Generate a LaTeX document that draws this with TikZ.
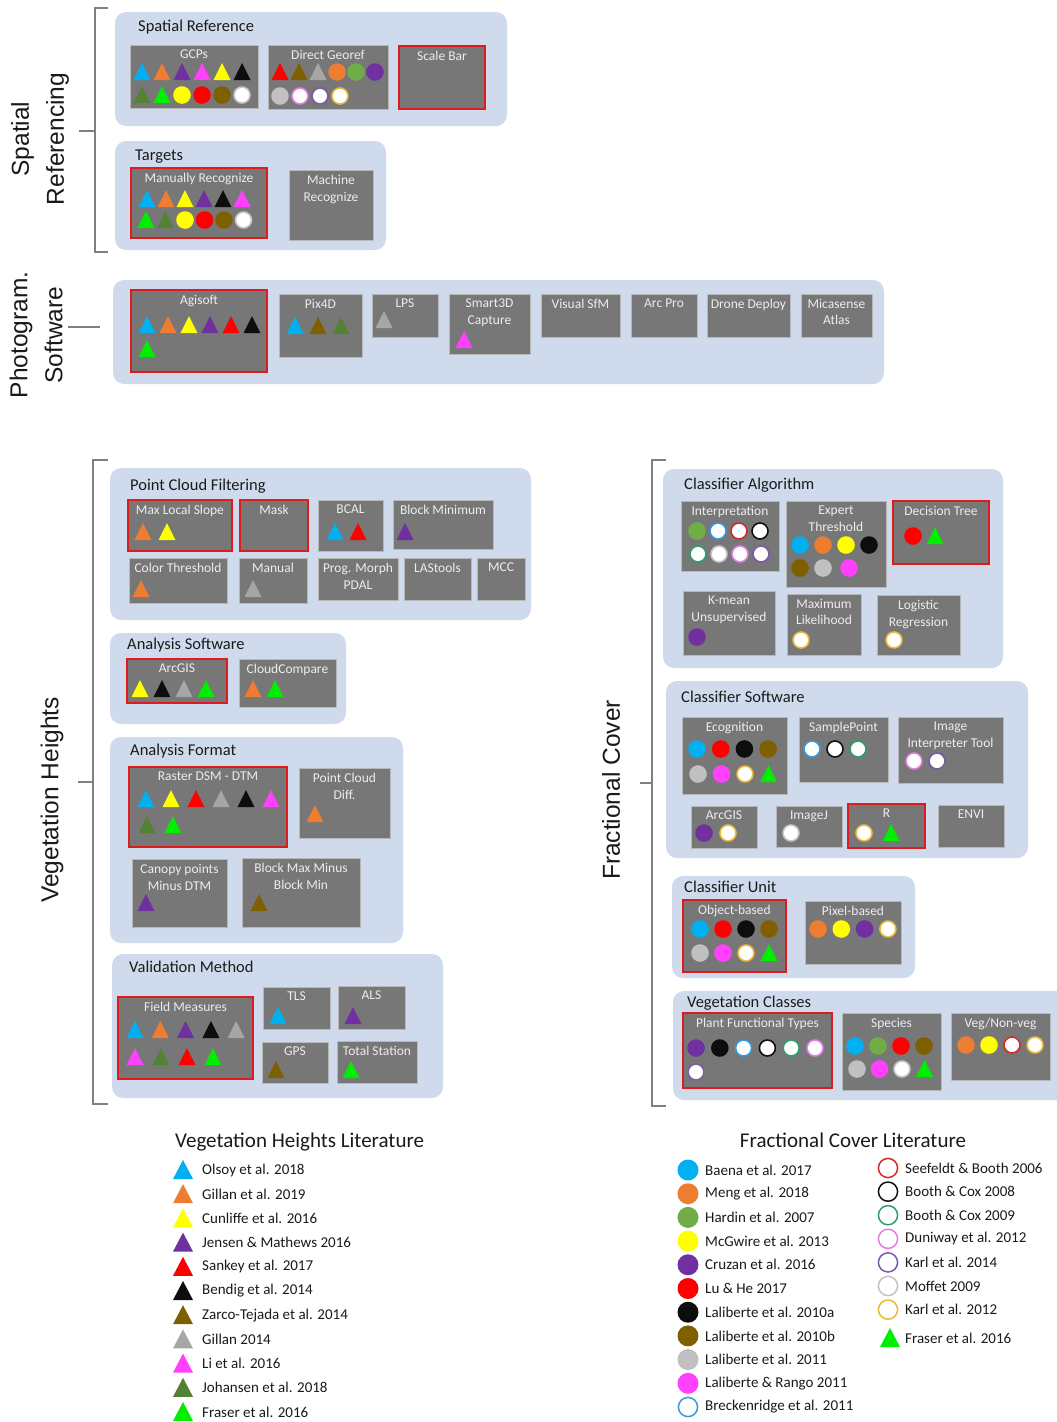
\documentclass[tikz,border=0pt]{standalone}
\usepackage{fontspec}
\setmainfont{Carlito}
\newfontfamily\arialf{Liberation Sans}
\definecolor{cBlu}{HTML}{00B0F0}
\definecolor{cOra}{HTML}{ED7D31}
\definecolor{cYel}{HTML}{FFFF00}
\definecolor{cPur}{HTML}{7030A0}
\definecolor{cRed}{HTML}{FF0000}
\definecolor{cBlk}{HTML}{0D0D0D}
\definecolor{cBrn}{HTML}{7F6000}
\definecolor{cGryT}{HTML}{A6A6A6}
\definecolor{cMag}{HTML}{FF40FF}
\definecolor{cDgr}{HTML}{548235}
\definecolor{cGrn}{HTML}{00EE00}
\definecolor{cHar}{HTML}{70AD47}
\definecolor{cGryC}{HTML}{C0C0C0}
\definecolor{rBlu}{HTML}{3A9AD8}
\definecolor{rRed}{HTML}{D42A2A}
\definecolor{rBlk}{HTML}{111111}
\definecolor{rGrn}{HTML}{2E9E6A}
\definecolor{rMag}{HTML}{E37DE3}
\definecolor{rPur}{HTML}{7B5AA6}
\definecolor{rGry}{HTML}{C4C4C4}
\definecolor{rGld}{HTML}{E8B93A}
\definecolor{grpblue}{HTML}{CFDBEC}
\definecolor{boxgray}{HTML}{777777}
\definecolor{boxedge}{HTML}{B8B8B8}
\definecolor{redb}{HTML}{E01B1B}
\definecolor{lbltext}{HTML}{EDEDED}
\definecolor{titletext}{HTML}{1A1A1A}
\definecolor{brkgray}{HTML}{808080}
\tikzset{
 grp/.style={fill=grpblue, rounded corners=11pt, inner sep=0, outer sep=0},
 box/.style={fill=boxgray, draw=boxedge, line width=0.8pt, inner sep=0, outer sep=0},
 redbox/.style={box, draw=redb, line width=2pt},
 boxlbl/.style={text=lbltext, font=\fontsize{13.5}{16.5}\selectfont, align=center, inner sep=2pt, yshift=-3pt},
 grptitle/.style={text=titletext, font=\fontsize{16.5}{19}\selectfont, anchor=west, inner sep=0},
 sidelbl/.style={text=titletext, font=\arialf\fontsize{24.5}{35}\selectfont, align=center, rotate=90, inner sep=0},
 brk/.style={draw=brkgray, line width=1.2pt},
 legtxt/.style={text=titletext, font=\fontsize{15}{17}\selectfont, anchor=west, inner sep=0},
 legtitle/.style={text=titletext, font=\fontsize{21}{23}\selectfont, inner sep=0},
}
% small symbols
\newcommand\symt[3]{\fill[fill=#3] (#1-8.5,#2+8) -- (#1+8.5,#2+8) -- (#1,#2-9) -- cycle;}
\newcommand\symc[3]{\fill[fill=#3] (#1,#2) circle (8.8pt);}
\newcommand\symr[3]{\filldraw[fill=white,draw=#3,line width=1.6pt] (#1,#2) circle (8pt);}
% legend symbols
\newcommand\symLT[3]{\fill[fill=#3] (#1-10,#2+9) -- (#1+10,#2+9) -- (#1,#2-10) -- cycle;}
\newcommand\symLc[3]{\fill[fill=#3] (#1,#2) circle (10.5pt);}
\newcommand\symLr[3]{\draw[draw=#3,line width=1.5pt] (#1,#2) circle (9.6pt);}
\newcommand\symrow[4]{\foreach \k/\cc [count=\i from 0] in {#4} {\pgfmathsetmacro\xx{#1+\i*#3}\csname sym\k\endcsname{\xx}{#2}{\cc}}}
\newcommand\mkbox[7][box]{%
 \pgfmathsetmacro\bw{#5-#3}\pgfmathsetmacro\bh{#6-#4}%
 \node[#1, minimum width=\bw pt, minimum height=\bh pt, anchor=north west] (#2) at (#3,#4) {};%
 \node[boxlbl, anchor=north] (#2-lbl) at (#2.north) {#7};}
\newcommand\mkgrp[5]{%
 \pgfmathsetmacro\bw{#4-#2}\pgfmathsetmacro\bh{#5-#3}%
 \node[grp, minimum width=\bw pt, minimum height=\bh pt, anchor=north west] (#1) at (#2,#3) {};}
\begin{document}
\begin{tikzpicture}[x=1pt,y=-1pt]
\useasboundingbox[fill=white] (0,0) rectangle (1057,1422);

% ---------- brackets and side labels
\draw[brk] (108,8) -- (95,8) -- (95,252) -- (108,252);
\draw[brk] (95,131) -- (79,131);
\draw[brk] (68,327) -- (100,327);
\draw[brk] (108,460) -- (93,460) -- (93,1104) -- (108,1104);
\draw[brk] (93,782) -- (78,782);
\draw[brk] (666,460) -- (652,460) -- (652,1106) -- (666,1106);
\draw[brk] (652,783) -- (640,783);
\node[sidelbl] (lblSR) at (40,139) {Spatial\\Referencing};
\node[sidelbl] (lblPS) at (36,335) {Photogram.\\Software};
\node[sidelbl] (lblVH) at (52,800) {Vegetation Heights};
\node[sidelbl] (lblFC) at (611,790) {Fractional Cover};

% ---------- groups
\mkgrp{gSR}{115}{12}{507}{126}
\mkgrp{gTG}{115}{141}{386}{250}
\mkgrp{gPS}{113}{280}{884}{384}
\mkgrp{gPCF}{110}{468}{531}{620}
\mkgrp{gAS}{110}{633}{346}{724}
\mkgrp{gAF}{110}{737}{403}{943}
\mkgrp{gVM}{112}{954}{443}{1098}
\mkgrp{gCA}{663}{469}{1003}{668}
\mkgrp{gCS}{666}{681}{1028}{858}
\mkgrp{gCU}{672}{876}{915}{978}
\mkgrp{gVC}{673}{991}{1080}{1100}
\node[grptitle] (tSR) at (138,27) {Spatial Reference};
\node[grptitle] (tTG) at (135,157) {Targets};
\node[grptitle] (tPCF) at (130,486) {Point Cloud Filtering};
\node[grptitle] (tAS) at (127,645) {Analysis Software};
\node[grptitle] (tAF) at (130,751) {Analysis Format};
\node[grptitle] (tVM) at (129,967) {Validation Method};
\node[grptitle] (tCA) at (684,485) {Classifier Algorithm};
\node[grptitle] (tCS) at (681,697) {Classifier Software};
\node[grptitle] (tCU) at (684,887) {Classifier Unit};
\node[grptitle] (tVC) at (687,1003) {Vegetation Classes};

% ---------- boxes: spatial referencing
\mkbox{bGCP}{130}{45}{258}{108}{GCPs}
\mkbox{bDG}{268}{45}{388}{109}{Direct Georef}
\mkbox[redbox]{bSB}{399}{46}{485}{109}{Scale Bar}
\mkbox[redbox]{bMR}{131}{168}{267}{238}{Manually Recognize}
\mkbox{bMaR}{289}{170}{373}{240}{Machine\\Recognize}
\symrow{142}{72}{20}{t/cBlu,t/cOra,t/cPur,t/cMag,t/cYel,t/cBlk}
\symrow{142}{95}{20}{t/cDgr,t/cGrn,c/cYel,c/cRed,c/cBrn,r/rGry}
\symrow{280}{72}{19}{t/cRed,t/cBrn,t/cGryT,c/cOra,c/cHar,c/cPur}
\symrow{280}{96}{20}{c/cGryC,r/rMag,r/rPur,r/rGld}
\symrow{147}{199}{19}{t/cBlu,t/cOra,t/cYel,t/cPur,t/cBlk,t/cMag}
\symrow{146}{220}{19.5}{t/cGrn,t/cDgr,c/cYel,c/cRed,c/cBrn,r/rGry}

% ---------- photogrammetry software
\mkbox[redbox]{bAg}{131}{290}{267}{372}{Agisoft}
\mkbox{bP4}{279}{294}{362}{357}{Pix4D}
\mkbox{bLPS}{372}{294}{438}{337}{LPS}
\mkbox{bS3}{449}{294}{530}{354}{Smart3D\\Capture}
\mkbox{bVS}{541}{294}{620}{337}{Visual SfM}
\mkbox{bAP}{631}{294}{697}{337}{Arc Pro}
\mkbox{bDD}{707}{294}{790}{337}{Drone Deploy}
\mkbox{bMA}{801}{294}{872}{337}{Micasense\\Atlas}
\symrow{147}{325}{21}{t/cBlu,t/cOra,t/cYel,t/cPur,t/cRed,t/cBlk}
\symrow{147}{349}{21}{t/cGrn}
\symrow{295}{326}{23}{t/cBlu,t/cBrn,t/cDgr}
\symrow{384}{320}{20}{t/cGryT}
\symrow{464}{340}{20}{t/cMag}

% ---------- point cloud filtering
\mkbox[redbox]{bMLS}{128}{500}{232}{551}{Max Local Slope}
\mkbox[redbox]{bMask}{240}{500}{308}{551}{Mask}
\mkbox{bBCAL}{318}{500}{383}{551}{BCAL}
\mkbox{bBM}{393}{500}{493}{549}{Block Minimum}
\mkbox{bCT}{129}{558}{227}{603}{Color Threshold}
\mkbox{bMan}{239}{558}{307}{603}{Manual}
\mkbox{bPM}{318}{558}{398}{600}{Prog. Morph\\PDAL}
\mkbox{bLAS}{404}{558}{471}{600}{LAStools}
\mkbox{bMCC}{477}{558}{525}{600}{MCC}
\symrow{143}{532}{24}{t/cOra,t/cYel}
\symrow{335}{532}{23}{t/cBlu,t/cRed}
\symrow{405}{532}{20}{t/cPur}
\symrow{141}{589}{20}{t/cOra}
\symrow{253}{589}{20}{t/cGryT}

% ---------- analysis software
\mkbox[redbox]{bAG1}{127}{659}{227}{703}{ArcGIS}
\mkbox{bCC}{239}{659}{336}{707}{CloudCompare}
\symrow{140}{689}{22}{t/cYel,t/cBlk,t/cGryT,t/cGrn}
\symrow{253}{689}{22}{t/cOra,t/cGrn}

% ---------- analysis format
\mkbox[redbox]{bRas}{129}{767}{287}{847}{Raster DSM - DTM}
\mkbox{bPCD}{299}{768}{390}{838}{Point Cloud\\Diff.}
\mkbox{bCan}{132}{859}{227}{927}{Canopy points\\Minus DTM}
\mkbox{bBMx}{242}{858}{360}{927}{Block Max Minus\\Block Min}
\symrow{146}{799}{25}{t/cBlu,t/cYel,t/cRed,t/cGryT,t/cBlk,t/cMag}
\symrow{147}{825}{26}{t/cDgr,t/cGrn}
\symrow{315}{814}{20}{t/cOra}
\symrow{146}{903}{20}{t/cPur}
\symrow{259}{903}{20}{t/cBrn}

% ---------- validation method
\mkbox[redbox]{bFM}{118}{997}{253}{1079}{Field Measures}
\mkbox{bTLS}{263}{987}{330}{1029}{TLS}
\mkbox{bALS}{338}{986}{405}{1029}{ALS}
\mkbox{bGPS}{262}{1042}{328}{1083}{GPS}
\mkbox{bTS}{337}{1041}{417}{1083}{Total Station}
\symrow{135}{1030}{25.3}{t/cBlu,t/cOra,t/cPur,t/cBlk,t/cGryT}
\symrow{135}{1057}{26}{t/cMag,t/cDgr,t/cRed,t/cGrn}
\symrow{278}{1016}{20}{t/cBlu}
\symrow{353}{1016}{20}{t/cPur}
\symrow{276}{1070}{20}{t/cBrn}
\symrow{351}{1070}{20}{t/cGrn}

% ---------- classifier algorithm
\mkbox{bInt}{681}{501}{779}{571}{Interpretation}
\mkbox{bET}{786}{501}{886}{587}{Expert\\Threshold}
\mkbox[redbox]{bDT}{893}{501}{989}{564}{Decision Tree}
\mkbox{bKM}{683}{591}{775}{655}{K-mean\\Unsupervised}
\mkbox{bML}{787}{594}{861}{655}{Maximum\\Likelihood}
\mkbox{bLR}{877}{595}{960}{655}{Logistic\\Regression}
\symrow{697}{531}{21}{c/cHar,r/rBlu,r/rRed,r/rBlk}
\symrow{698}{554}{21}{r/rGrn,r/rGry,r/rMag,r/rPur}
\symrow{800}{545}{23}{c/cBlu,c/cOra,c/cYel,c/cBlk}
\symrow{800}{568}{23}{c/cBrn,c/cGryC}
\symrow{849}{568}{20}{c/cMag}
\symrow{913}{536}{22}{c/cRed,t/cGrn}
\symrow{697}{637}{20}{c/cPur}
\symrow{801}{640}{20}{r/rGld}
\symrow{894}{640}{20}{r/rGld}

% ---------- classifier software
\mkbox{bEco}{682}{717}{787}{794}{Ecognition}
\mkbox{bSP}{799}{717}{888}{782}{SamplePoint}
\mkbox{bIIT}{898}{717}{1003}{783}{Image\\Interpreter Tool}
\mkbox{bAG2}{691}{806}{757}{848}{ArcGIS}
\mkbox{bIJ}{776}{806}{842}{847}{ImageJ}
\mkbox[redbox]{bR}{848}{804}{925}{848}{R}
\mkbox{bENVI}{938}{805}{1004}{847}{ENVI}
\symrow{697}{749}{23.7}{c/cBlu,c/cRed,c/cBlk,c/cBrn}
\symrow{698}{774}{23.5}{c/cGryC,c/cMag,r/rGld,t/cGrn}
\symrow{812}{749}{23}{r/rBlu,r/rBlk,r/rGrn}
\symrow{914}{761}{23}{r/rMag,r/rPur}
\symrow{704}{833}{24}{c/cPur,r/rGld}
\symrow{791}{833}{20}{r/rGry}
\symrow{864}{833}{27}{r/rGld,t/cGrn}

% ---------- classifier unit
\mkbox[redbox]{bOB}{683}{900}{786}{972}{Object-based}
\mkbox{bPB}{805}{901}{901}{964}{Pixel-based}
\symrow{700}{929}{23}{c/cBlu,c/cRed,c/cBlk,c/cBrn}
\symrow{700}{953}{23}{c/cGryC,c/cMag,r/rGld,t/cGrn}
\symrow{818}{929}{23.3}{c/cOra,c/cYel,c/cPur,r/rGld}

% ---------- vegetation classes
\mkbox[redbox]{bPFT}{683}{1013}{832}{1088}{Plant Functional Types}
\mkbox{bSpe}{842}{1013}{941}{1090}{Species}
\mkbox{bVNV}{951}{1013}{1050}{1080}{Veg/Non-veg}
\symrow{696}{1048}{23.8}{c/cPur,c/cBlk,r/rBlu,r/rBlk,r/rGrn,r/rMag}
\symrow{696}{1072}{20}{r/rPur}
\symrow{855}{1046}{23}{c/cBlu,c/cHar,c/cRed,c/cBrn}
\symrow{857}{1069}{22.5}{c/cGryC,c/cMag,r/rGry,t/cGrn}
\symrow{966}{1045}{23}{c/cOra,c/cYel,r/rRed,r/rGld}

% ---------- legends
\node[legtitle, anchor=west] (legVH) at (175,1142) {Vegetation Heights Literature};
\foreach \cc/\txt [count=\i from 0] in {cBlu/Olsoy et al. 2018, cOra/Gillan et al. 2019, cYel/Cunliffe et al. 2016, cPur/Jensen \& Mathews 2016, cRed/Sankey et al. 2017, cBlk/Bendig et al. 2014, cBrn/Zarco-Tejada et al. 2014, cGryT/Gillan 2014, cMag/Li et al. 2016, cDgr/Johansen et al. 2018, cGrn/Fraser et al. 2016}{
 \pgfmathsetmacro\yy{1170+24.2*\i}
 \symLT{183}{\yy}{\cc}
 \node[legtxt] (vhl\i) at (202,\yy) {\txt};
}
\node[legtitle] (legFC) at (853,1140) {Fractional Cover Literature};
\foreach \k/\cc/\txt [count=\i from 0] in {c/cBlu/Baena et al. 2017, c/cOra/Meng et al. 2018, c/cHar/Hardin et al. 2007, c/cYel/McGwire et al. 2013, c/cPur/Cruzan et al. 2016, c/cRed/Lu \& He 2017, c/cBlk/Laliberte et al. 2010a, c/cBrn/Laliberte et al. 2010b, c/cGryC/Laliberte et al. 2011, c/cMag/Laliberte \& Rango 2011, r/rBlu/Breckenridge et al. 2011}{
 \pgfmathsetmacro\yy{1170+23.7*\i}
 \csname symL\k\endcsname{688}{\yy}{\cc}
 \node[legtxt] (fcl\i) at (705,\yy) {\txt};
}
\foreach \k/\cc/\txt [count=\i from 0] in {r/rRed/Seefeldt \& Booth 2006, r/rBlk/Booth \& Cox 2008, r/rGrn/Booth \& Cox 2009, r/rMag/Duniway et al. 2012, r/rPur/Karl et al. 2014, r/rGry/Moffet 2009, r/rGld/Karl et al. 2012}{
 \pgfmathsetmacro\yy{1168+23.6*\i}
 \csname symL\k\endcsname{888}{\yy}{\cc}
 \node[legtxt] (fcr\i) at (905,\yy) {\txt};
}
\symLT{890}{1338}{cGrn}
\node[legtxt] (fcr7) at (905,1338) {Fraser et al. 2016};
\end{tikzpicture}
\end{document}
